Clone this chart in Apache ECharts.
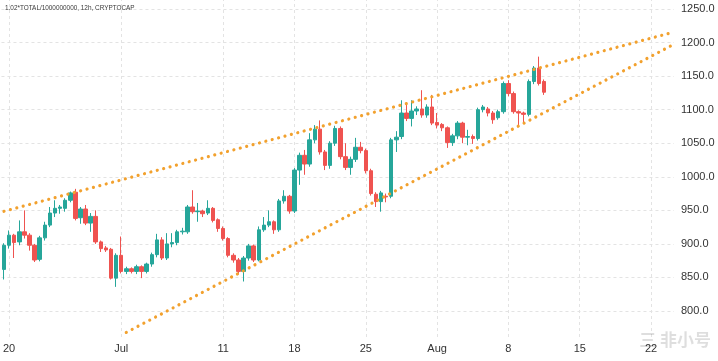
<!DOCTYPE html>
<html><head><meta charset="utf-8">
<script src="https://cdn.jsdelivr.net/npm/echarts@6/dist/echarts.min.js"></script>
<style>html,body{margin:0;padding:0;background:#fff}#c{width:718px;height:361px}</style>
</head><body><div id="c"></div>
<script>
// 12h candles, first candle = Jun 19 12:00
const opens  = [862,898,913,903,918,913,898,877,909,928,946,953,953,965,977,939,952,931,941,903,894,892,849,883,859,863,859,866,859,870,884,906,879,900,902,918,918,955,948,949,946,953,936,923,908,883,876,859,879,897,876,921,928,933,921,964,971,949,1010,1032,1019,1055,1071,1037,1017,1050,1072,1030,1014,1026,1044,1039,1009,974,963,971,971,1055,1060,1095,1087,1098,1101,1092,1104,1081,1078,1073,1051,1061,1080,1059,1060,1057,1100,1101,1095,1088,1097,1139,1124,1097,1095,1093,1142,1162,1142];
const closes = [898,913,902,918,913,898,876,909,928,946,953,955,965,976,938,952,931,941,903,893,891,849,883,859,863,859,866,859,870,884,906,879,900,902,918,919,955,948,949,945,953,935,923,908,883,876,859,879,897,876,921,928,933,921,964,971,949,1010,1032,1019,1055,1071,1037,1017,1050,1072,1030,1014,1026,1044,1039,1009,975,963,976,970,1055,1059,1095,1087,1098,1101,1092,1104,1080,1077,1073,1051,1061,1080,1059,1060,1057,1100,1104,1095,1085,1097,1139,1124,1097,1095,1093,1142,1162,1139,1126];
const lows   = [847,893,879,898,908,890,873,874,905,925,940,945,948,962,935,930,928,918,900,888,888,847,836,856,855,856,855,849,856,866,880,876,876,895,898,914,915,945,933,940,943,932,918,905,880,872,855,844,875,873,874,918,925,915,918,960,945,946,988,1003,1015,1050,1033,1010,1012,1046,1026,1010,1003,1022,1035,1005,972,955,948,962,968,1037,1056,1083,1075,1092,1088,1088,1077,1072,1068,1043,1046,1056,1050,1047,1049,1054,1096,1090,1079,1085,1094,1120,1094,1077,1080,1090,1138,1136,1122];
const highs  = [901,920,915,935,950,916,900,912,933,955,965,958,968,978,982,955,958,946,950,905,897,894,886,911,866,865,869,868,872,887,915,910,916,916,921,924,958,980,961,951,965,955,938,926,910,886,879,882,900,899,926,940,950,935,967,980,973,1013,1036,1040,1065,1077,1084,1040,1053,1076,1075,1050,1030,1058,1052,1042,1012,977,979,975,1058,1068,1114,1110,1114,1105,1129,1108,1122,1095,1080,1075,1064,1083,1082,1070,1063,1103,1107,1104,1098,1100,1142,1144,1127,1099,1097,1145,1165,1179,1145];

const tickDates  = ['06-20 00','07-01 00','07-11 00','07-18 00','07-25 00','08-01 00','08-08 00','08-15 00','08-22 00'];
const tickLabels = ['20','Jul','11','18','25','Aug','8','15','22'];
const yTicks = [800,850,900,950,1000,1050,1100,1150,1200,1250];

const upperTrend = [['06-19 12', 948.6], ['08-24 00', 1214.7]];
const lowerTrend = [['07-01 12', 768.1], ['08-24 00', 1195.5]];

const titleText = '1.02*TOTAL/1000000000, 12h, CRYPTOCAP';

// axis domain: 12h slots
const cats = [];
{
  let t = Date.UTC(2022, 5, 19, 12);
  for (let k = 0; k < 132; k++) {
    const d = new Date(t + k * 12 * 3600 * 1000);
    const mm = String(d.getUTCMonth() + 1).padStart(2, '0');
    const dd = String(d.getUTCDate()).padStart(2, '0');
    const hh = String(d.getUTCHours()).padStart(2, '0');
    cats.push(mm + '-' + dd + ' ' + hh);
  }
}
const candleData = opens.map((o, i) => [o, closes[i], lows[i], highs[i]]);
const UP = '#26a69a', DOWN = '#ef5350', TREND = '#f2a12e';

const chart = echarts.init(document.getElementById('c'), null, {renderer: 'canvas'});
chart.setOption({
  animation: false,
  backgroundColor: '#ffffff',
  grid: {left: 0, right: 44, top: 0, bottom: 24, containLabel: false},
  xAxis: {
    type: 'category', data: cats, boundaryGap: true,
    axisLine: {show: false}, axisTick: {show: false},
    axisLabel: {
      interval: (i, v) => tickDates.includes(v),
      formatter: v => { const k = tickDates.indexOf(v); return k >= 0 ? tickLabels[k] : ''; },
      color: '#333', fontSize: 11, margin: 6, fontFamily: 'Liberation Sans'
    },
    splitLine: {show: false}
  },
  yAxis: {
    type: 'value', position: 'right', min: 761.3, max: 1263.4,
    axisLine: {show: false},
    axisTick: {show: false, customValues: yTicks},
    axisLabel: {customValues: yTicks, formatter: v => v.toFixed(1), color: '#333', fontSize: 11, margin: 7, fontFamily: 'Liberation Sans'},
    splitLine: {show: true, lineStyle: {color: '#e3e3e3', type: [3, 3], width: 1}}
  },
  graphic: [
    {type: 'text', left: 5, top: 5, z: 10, style: {text: titleText, fill: '#3a3a3a', fontSize: 6.4, fontFamily: 'Liberation Sans'}},
    {type: 'text', right: 7, top: 331, z: 10, style: {text: '三 非小号', fill: 'rgba(0,0,0,0.13)', fontSize: 17, fontWeight: 'bold', fontFamily: 'Noto Sans CJK SC'}}
  ],
  series: [
    {
      type: 'line', data: [], silent: true, z: 1,
      markLine: {
        silent: true, symbol: ['none', 'none'], label: {show: false}, z: 1,
        lineStyle: {color: '#e3e3e3', type: [3, 3], width: 1},
        data: tickDates.map(d => ({xAxis: d}))
      }
    },
    {
      type: 'candlestick', data: candleData, barWidth: 4, z: 3,
      itemStyle: {color: UP, color0: DOWN, borderColor: UP, borderColor0: DOWN, borderWidth: 1}
    },
    {type: 'line', data: upperTrend, symbol: 'none', silent: true, z: 4,
     lineStyle: {color: TREND, width: 3.2, type: [0.01, 6.6], cap: 'round'}},
    {type: 'line', data: lowerTrend, symbol: 'none', silent: true, z: 4,
     lineStyle: {color: TREND, width: 3.2, type: [0.01, 6.6], cap: 'round'}}
  ]
});
</script>
</body></html>
